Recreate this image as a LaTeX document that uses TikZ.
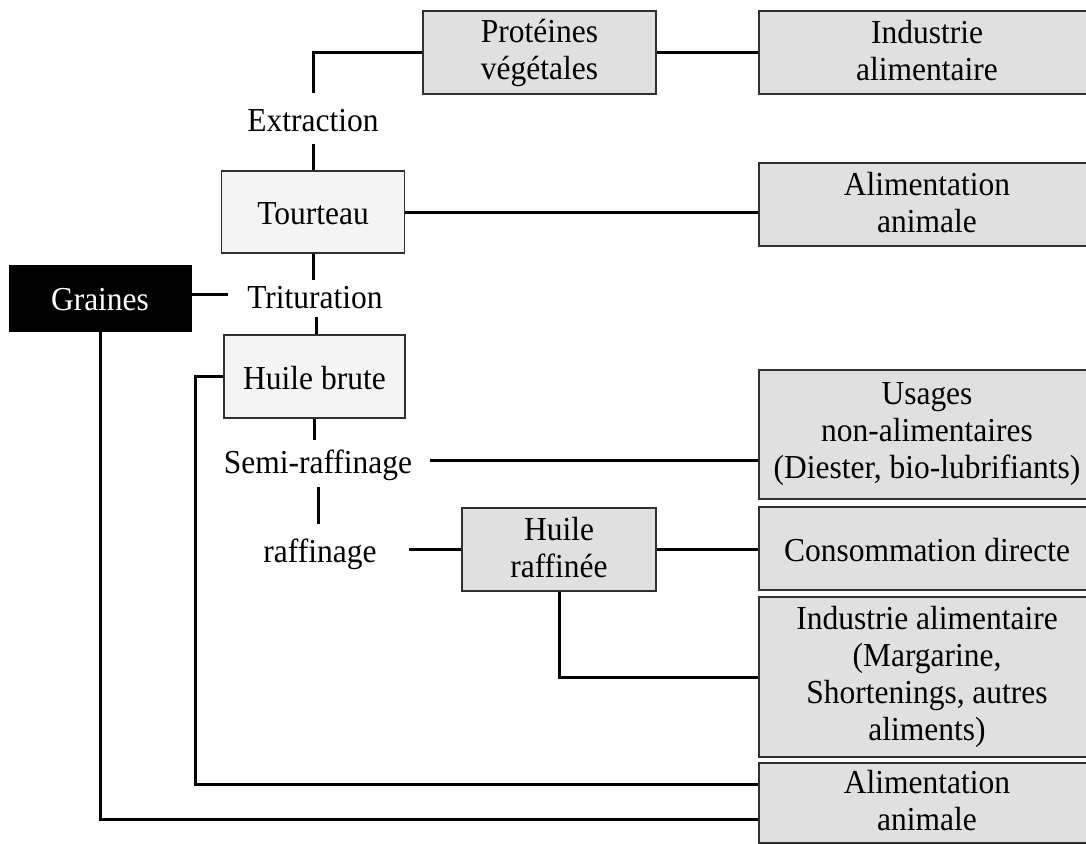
\documentclass[tikz,border=0pt]{standalone}
\usepackage{fontspec}
\setmainfont{Liberation Serif}[FakeStretch=0.94]
\definecolor{boxgray}{HTML}{E0E0E0}
\definecolor{boxlight}{HTML}{F4F4F4}
\definecolor{edgegray}{HTML}{303030}
\newcommand{\lnstrut}{\rule[-4.7pt]{0pt}{34.65pt}}
\begin{document}
\begin{tikzpicture}[x=1pt,y=-1pt,
  every node/.style={font=\fontsize{33.5}{37}\selectfont},
  boxtext/.style={align=center,inner sep=0pt,
    execute at begin node=\lnstrut,execute at end node=\lnstrut},
  gbox/.style={boxtext,draw=edgegray,line width=1.3pt,fill=boxgray},
  lbox/.style={boxtext,draw=edgegray,line width=1.3pt,fill=boxlight},
  blackbox/.style={boxtext,draw=black,fill=black,text=white},
  lbl/.style={inner sep=0pt,text height=22pt,text depth=6.3pt},
  conn/.style={draw=black,line width=3pt,line join=miter}]
\clip (0,0) rectangle (1086,843);
\fill[white] (0,0) rectangle (1086,843);

% boxes
\node[gbox,minimum width=233pt,minimum height=83pt] (prot) at (539.5,52.5) {Protéines\\végétales};
\node[gbox,minimum width=336pt,minimum height=83pt] (ind1) at (927,52.5) {Industrie\\alimentaire};
\node[lbox,minimum width=183pt,minimum height=82pt] (tour) at (313,212) {Tourteau};
\node[gbox,minimum width=336pt,minimum height=83pt] (alim1) at (927,204.5) {Alimentation\\animale};
\node[blackbox,minimum width=182pt,minimum height=66pt] (grain) at (100,298) {Graines};
\node[lbox,minimum width=181pt,minimum height=83pt] (hb) at (314.5,376.5) {Huile brute};
\node[gbox,minimum width=336pt,minimum height=129pt] (usg) at (927,434.5) {Usages\\non-alimentaires\\(Diester, bio-lubrifiants)};
\node[gbox,minimum width=194pt,minimum height=83pt] (hr) at (559,549.5) {Huile\\raffinée};
\node[gbox,minimum width=336pt,minimum height=83pt] (cons) at (927,548.5) {Consommation directe};
\node[gbox,minimum width=336pt,minimum height=160pt] (ind2) at (927,677) {Industrie alimentaire\\(Margarine,\\Shortenings, autres\\aliments)};
\node[gbox,minimum width=336pt,minimum height=80pt] (alim2) at (927,803) {Alimentation\\animale};

% labels
\node[lbl] (ext) at (313,124) {Extraction};
\node[lbl] (trit) at (315,301) {Trituration};
\node[lbl] (semi) at (318,466) {Semi-raffinage};
\node[lbl] (raff) at (320,555) {raffinage};

% free ends
\coordinate (extTop) at (313,93);
\coordinate (extBot) at (313,144);
\coordinate (tritTop) at (315,280);
\coordinate (tritBot) at (316,317);
\coordinate (grainR) at (228,294);
\coordinate (semiTop) at (316,440);
\coordinate (semiBot) at (318,487);
\coordinate (raffTop) at (318,524);
\coordinate (semiR) at (430,460);
\coordinate (raffR) at (409,549.5);
\coordinate (hbCorner) at (195,784);
\coordinate (gCorner) at (100,819);

% connectors
\draw[conn] (prot.west) -| (extTop);
\draw[conn] (extBot) -- (extBot |- tour.north);
\draw[conn] (prot.east) -- (ind1.west);
\draw[conn] (tour.east) -- (tour.east -| alim1.west);
\draw[conn] (tour.south) -- (tour.south |- tritTop);
\draw[conn] (tritBot) -- (tritBot |- hb.north);
\draw[conn] (grainR -| grain.east) -- (grainR);
\draw[conn] (hb.south) -- (hb.south |- semiTop);
\draw[conn] (semiBot) -- (raffTop);
\draw[conn] (semiR) -- (semiR -| usg.west);
\draw[conn] (raffR) -- (hr.west);
\draw[conn] (hr.east) -- (hr.east -| cons.west);
\draw[conn] (hr.south) |- (ind2.west);
\draw[conn] (hb.west) -| (hbCorner) -- (hbCorner -| alim2.west);
\draw[conn] (grain.south) -- (gCorner) -- (gCorner -| alim2.west);
\end{tikzpicture}
\end{document}
